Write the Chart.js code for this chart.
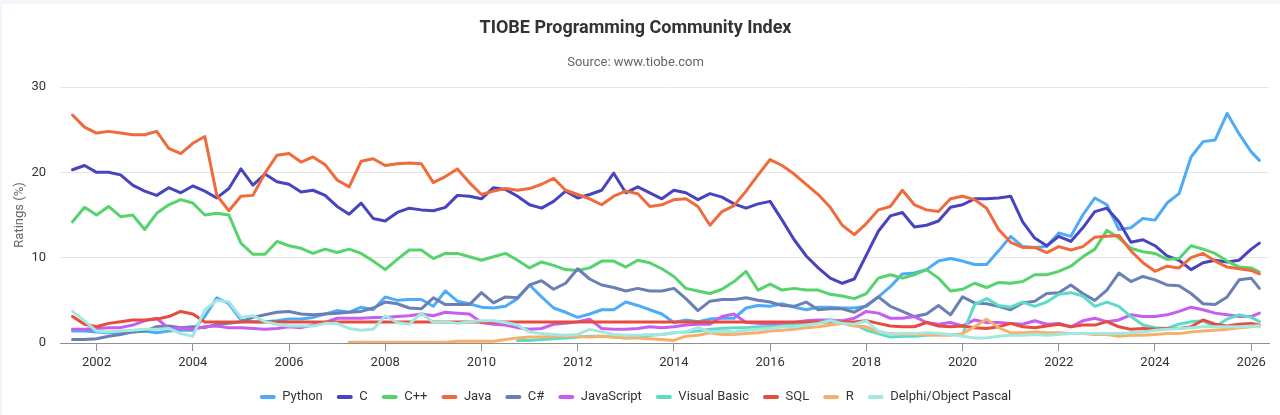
<!DOCTYPE html>
<html>
<head>
<meta charset="utf-8">
<title>TIOBE Programming Community Index</title>
<script src="https://cdn.jsdelivr.net/npm/chart.js@4.4.1/dist/chart.umd.min.js"></script>
<style>
    html, body { margin: 0; padding: 0; background: #f2f5f9; }
    #card { position: absolute; left: 2px; top: 4px; width: 1278px; height: 411px; background: #fff; }
</style>
</head>
<body>
<div id="card"><canvas id="tiobe" width="1278" height="411"></canvas></div>
<script>
// quarterly samples (years as decimals)
const quarters = [
    2001.5, 2001.75,
    2002, 2002.25, 2002.5, 2002.75,
    2003, 2003.25, 2003.5, 2003.75,
    2004, 2004.25, 2004.5, 2004.75,
    2005, 2005.25, 2005.5, 2005.75,
    2006, 2006.25, 2006.5, 2006.75,
    2007, 2007.25, 2007.5, 2007.75,
    2008, 2008.25, 2008.5, 2008.75,
    2009, 2009.25, 2009.5, 2009.75,
    2010, 2010.25, 2010.5, 2010.75,
    2011, 2011.25, 2011.5, 2011.75,
    2012, 2012.25, 2012.5, 2012.75,
    2013, 2013.25, 2013.5, 2013.75,
    2014, 2014.25, 2014.5, 2014.75,
    2015, 2015.25, 2015.5, 2015.75,
    2016, 2016.25, 2016.5, 2016.75,
    2017, 2017.25, 2017.5, 2017.75,
    2018, 2018.25, 2018.5, 2018.75,
    2019, 2019.25, 2019.5, 2019.75,
    2020, 2020.25, 2020.5, 2020.75,
    2021, 2021.25, 2021.5, 2021.75,
    2022, 2022.25, 2022.5, 2022.75,
    2023, 2023.25, 2023.5, 2023.75,
    2024, 2024.25, 2024.5, 2024.75,
    2025, 2025.25, 2025.5, 2025.75,
    2026, 2026.17
];

const xTicks = [2002, 2004, 2006, 2008, 2010, 2012, 2014, 2016, 2018, 2020, 2022, 2024, 2026];
const yTicks = [0, 10, 20, 30];

const languages = ['Python', 'C', 'C++', 'Java', 'C#', 'JavaScript', 'Visual Basic', 'SQL', 'R', 'Delphi/Object Pascal'];

const python = [
    1.4, 1.4,
    1.3, 1.2, 1.2, 1.3,
    1.4, 1.2, 1.4, 1.5,
    1.5, 3.1, 5.3, 4.6,
    2.7, 2.5, 2.5, 2.6,
    2.8, 2.8, 3.0, 3.4,
    3.8, 3.6, 4.2, 3.9,
    5.4, 5.0, 5.1, 5.1,
    4.3, 6.1, 4.9, 4.6,
    4.2, 4.1, 4.3, 5.2,
    6.8, 5.4, 4.1, 3.6,
    3.0, 3.4, 3.9, 3.9,
    4.8, 4.4, 3.9, 3.4,
    2.4, 2.7, 2.5, 2.8,
    2.9, 2.9, 4.1, 4.4,
    4.3, 4.6, 4.2, 3.9,
    4.2, 4.2, 4.1, 4.1,
    4.3, 5.4, 6.6, 8.1,
    8.2, 8.6, 9.6, 9.9,
    9.6, 9.2, 9.2, 10.8,
    12.5, 11.3, 11.2, 11.3,
    12.9, 12.5, 15.0, 17.0,
    16.2, 13.3, 13.5, 14.6,
    14.4, 16.4, 17.5, 21.8,
    23.6, 23.8, 26.9, 24.5,
    22.4, 21.4
];

const c = [
    20.3, 20.8,
    20.0, 20.0, 19.7, 18.5,
    17.8, 17.3, 18.2, 17.6,
    18.4, 17.8, 17.0, 18.1,
    20.4, 18.5, 19.8, 18.9,
    18.6, 17.7, 17.9, 17.3,
    16.0, 15.1, 16.4, 14.6,
    14.3, 15.3, 15.8, 15.6,
    15.5, 15.9, 17.3, 17.2,
    16.9, 18.2, 18.0, 17.2,
    16.2, 15.8, 16.6, 17.8,
    17.0, 17.4, 17.9, 19.9,
    17.6, 18.3, 17.6, 16.9,
    17.9, 17.6, 16.8, 17.5,
    17.1, 16.3, 15.8, 16.3,
    16.6, 14.4, 12.1, 10.2,
    8.8, 7.6, 7.0, 7.5,
    10.3, 13.1, 14.9, 15.3,
    13.6, 13.8, 14.3, 15.9,
    16.2, 16.9, 16.9, 17.0,
    17.2, 14.2, 12.3, 11.4,
    12.5, 11.9, 13.5, 15.4,
    15.8, 14.2, 11.8, 12.1,
    11.4, 10.2, 9.7, 8.6,
    9.4, 9.7, 9.5, 9.7,
    11.0, 11.7
];

const cpp = [
    14.2, 15.9,
    15.0, 16.0, 14.8, 15.0,
    13.3, 15.2, 16.2, 16.8,
    16.4, 15.0, 15.2, 15.0,
    11.7, 10.4, 10.4, 11.9,
    11.4, 11.1, 10.5, 11.0,
    10.6, 11.0, 10.5, 9.6,
    8.6, 9.8, 10.9, 10.9,
    9.9, 10.5, 10.5, 10.1,
    9.7, 10.1, 10.5, 9.7,
    8.8, 9.5, 9.1, 8.6,
    8.5, 8.8, 9.6, 9.6,
    8.9, 9.7, 9.4, 8.7,
    7.8, 6.4, 6.1, 5.8,
    6.3, 7.2, 8.4, 6.2,
    6.9, 6.2, 6.4, 6.2,
    6.2, 5.7, 5.5, 5.2,
    5.8, 7.6, 8.0, 7.6,
    8.0, 8.6, 7.6, 6.1,
    6.3, 7.0, 6.5, 7.1,
    7.0, 7.2, 8.0, 8.0,
    8.4, 9.0, 10.1, 11.0,
    13.2, 12.3, 11.1, 10.7,
    10.5, 9.8, 9.9, 11.4,
    11.0, 10.5, 9.6, 8.9,
    8.8, 8.3
];

const java = [
    26.7, 25.3,
    24.6, 24.8, 24.6, 24.4,
    24.4, 24.8, 22.8, 22.2,
    23.4, 24.2, 17.3, 15.5,
    17.2, 17.3, 19.9, 22.0,
    22.2, 21.2, 21.8, 20.9,
    19.1, 18.3, 21.3, 21.6,
    20.8, 21.0, 21.1, 21.0,
    18.8, 19.5, 20.4, 18.8,
    17.4, 17.8, 18.1, 17.9,
    18.1, 18.6, 19.3, 17.9,
    17.4, 16.9, 16.2, 17.2,
    17.8, 17.5, 16.0, 16.2,
    16.8, 16.9, 16.0, 13.8,
    15.4, 16.1, 17.8, 19.7,
    21.5, 20.8, 19.8, 18.6,
    17.4, 15.9, 13.8, 12.7,
    14.0, 15.6, 16.0, 17.9,
    16.2, 15.6, 15.4, 16.9,
    17.2, 16.8, 15.8, 13.3,
    11.8, 11.2, 11.2, 10.6,
    11.3, 10.9, 11.3, 12.4,
    12.5, 12.6, 10.8, 9.4,
    8.4, 9.0, 8.8, 10.0,
    10.5, 9.6, 8.9, 8.7,
    8.5, 8.1
];

const csharp = [
    0.4, 0.4,
    0.5, 0.8, 1.0, 1.3,
    1.4, 1.9, 2.0, 1.8,
    1.9, 1.8, 2.2, 2.3,
    2.5, 3.0, 3.3, 3.6,
    3.7, 3.4, 3.3, 3.4,
    3.5, 3.6, 3.7, 4.1,
    4.8, 4.6, 4.1, 4.0,
    5.3, 4.5, 4.5, 4.5,
    5.9, 4.7, 5.4, 5.3,
    6.8, 7.3, 6.3, 7.0,
    8.7, 7.5, 6.8, 6.5,
    6.1, 6.4, 6.1, 6.1,
    6.4, 5.2, 3.8, 4.9,
    5.1, 5.1, 5.3, 5.0,
    4.8, 4.4, 4.3, 4.8,
    3.9, 4.0, 4.0, 3.6,
    4.4, 5.4, 4.3, 3.7,
    3.1, 3.4, 4.4, 3.3,
    5.4, 4.7, 4.6, 4.3,
    3.9, 4.7, 4.9, 5.8,
    5.9, 6.8, 5.8, 5.0,
    6.2, 8.2, 7.2, 7.8,
    7.4, 6.8, 6.7, 5.8,
    4.6, 4.5, 5.4, 7.4,
    7.6, 6.4
];

const javascript = [
    1.6, 1.6,
    1.7, 1.8, 1.8, 2.1,
    2.6, 2.9, 1.7, 1.7,
    1.6, 1.9, 2.0, 1.8,
    1.8, 1.7, 1.6, 1.7,
    1.9, 1.8, 2.1, 2.4,
    2.9, 2.9, 2.9, 3.0,
    3.0, 3.1, 3.2, 3.4,
    3.2, 3.6, 3.5, 3.4,
    2.4, 2.2, 2.1, 1.8,
    1.6, 1.7, 2.2, 2.3,
    2.5, 2.8, 1.7, 1.6,
    1.6, 1.7, 1.9, 1.8,
    1.9, 2.1, 2.2, 2.2,
    3.1, 3.4, 2.4, 2.3,
    2.2, 2.2, 2.4, 2.6,
    2.7, 2.7, 2.6, 2.9,
    3.7, 3.5, 2.9, 2.9,
    3.1, 2.4, 2.2, 2.4,
    2.0, 2.7, 2.4, 2.4,
    2.3, 2.2, 2.6, 2.2,
    2.3, 1.9, 2.6, 2.9,
    2.5, 2.7, 3.3, 3.1,
    3.1, 3.3, 3.7, 4.2,
    3.9, 3.5, 3.3, 3.1,
    3.1, 3.5
];

const visualBasic = [
    null, null,
    null, null, null, null,
    null, null, null, null,
    null, null, null, null,
    null, null, null, null,
    null, null, null, null,
    null, null, null, null,
    null, null, null, null,
    null, null, null, null,
    null, null, null, 0.3,
    0.3, 0.4, 0.5, 0.6,
    0.7, 0.8, 0.8, 0.7,
    0.6, 0.7, 0.9, 1.0,
    1.2, 1.3, 1.4, 1.6,
    1.7, 1.8, 1.8, 1.9,
    1.9, 2.0, 2.1, 2.3,
    2.4, 2.7, 2.4, 2.2,
    1.5, 1.1, 0.7, 0.8,
    0.8, 0.9, 1.0, 1.0,
    1.0, 4.5, 5.2, 4.4,
    4.2, 4.8, 4.3, 4.8,
    5.7, 5.9, 5.5, 4.3,
    4.8, 4.3, 3.1, 2.1,
    1.8, 1.7, 2.2, 2.5,
    2.6, 1.9, 2.8, 3.3,
    3.0, 2.5
];

const sql = [
    3.1, 2.2,
    1.9, 2.3, 2.5, 2.7,
    2.7, 2.8, 3.1, 3.7,
    3.4, 2.45, 2.45, 2.45,
    2.45, 2.45, 2.45, 2.45,
    2.45, 2.45, 2.45, 2.45,
    2.45, 2.45, 2.45, 2.45,
    2.45, 2.45, 2.45, 2.45,
    2.45, 2.45, 2.45, 2.45,
    2.45, 2.45, 2.45, 2.45,
    2.45, 2.45, 2.45, 2.45,
    2.45, 2.45, 2.45, 2.45,
    2.45, 2.45, 2.45, 2.45,
    2.45, 2.45, 2.45, 2.45,
    2.45, 2.45, 2.45, 2.45,
    2.45, 2.45, 2.45, 2.45,
    2.45, 2.45, 2.45, 2.45,
    2.6, 2.3, 2.0, 1.9,
    1.9, 2.4, 2.0, 1.9,
    2.0, 1.8, 1.7, 1.9,
    2.3, 1.9, 1.8, 2.0,
    2.2, 1.9, 2.1, 2.1,
    2.5, 1.9, 1.6, 1.7,
    1.6, 1.7, 1.7, 1.9,
    2.7, 2.2, 2.0, 2.2,
    2.3, 2.1
];

const r = [
    null, null,
    null, null, null, null,
    null, null, null, null,
    null, null, null, null,
    null, null, null, null,
    null, null, null, null,
    null, 0.1, 0.1, 0.1,
    0.1, 0.1, 0.1, 0.1,
    0.1, 0.1, 0.2, 0.2,
    0.2, 0.2, 0.4, 0.6,
    0.7, 0.7, 0.8, 0.8,
    0.8, 0.7, 0.8, 0.7,
    0.6, 0.6, 0.5, 0.4,
    0.3, 0.8, 0.9, 1.2,
    1.0, 1.0, 1.1, 1.2,
    1.4, 1.5, 1.6, 1.8,
    1.9, 2.1, 2.3, 2.0,
    1.9, 1.3, 1.1, 1.0,
    1.0, 1.0, 0.9, 0.9,
    1.1, 1.9, 2.8, 1.8,
    1.2, 1.2, 1.3, 1.2,
    1.2, 1.1, 1.1, 1.0,
    1.0, 0.8, 0.9, 0.9,
    1.0, 1.1, 1.1, 1.3,
    1.4, 1.5, 1.6, 1.8,
    1.9, 2.1
];

const delphi = [
    3.7, 2.6,
    1.4, 1.3, 1.4, 1.5,
    1.6, 1.6, 1.7, 1.1,
    0.8, 3.9, 5.0, 4.8,
    3.0, 3.2, 2.5, 2.2,
    2.0, 2.0, 2.0, 2.3,
    2.3, 1.7, 1.5, 1.6,
    3.2, 2.4, 2.2, 3.5,
    2.4, 2.5, 2.3, 2.5,
    2.6, 2.6, 2.4, 2.1,
    1.3, 1.1, 1.0, 0.9,
    1.0, 1.6, 1.3, 1.0,
    0.9, 0.9, 1.0, 1.0,
    1.2, 1.3, 1.8, 1.3,
    1.4, 1.3, 1.5, 1.6,
    1.7, 1.9, 1.9, 2.1,
    2.3, 2.6, 2.3, 2.2,
    2.6, 1.4, 1.0, 1.1,
    1.1, 1.2, 1.1, 1.0,
    0.8, 0.6, 0.6, 0.8,
    0.9, 0.9, 1.0, 0.9,
    1.0, 1.1, 1.1, 1.1,
    1.1, 1.1, 1.2, 1.3,
    1.5, 1.6, 1.7, 1.8,
    1.9, 1.9, 1.9, 1.9,
    2.0, 1.9
];

const ratings = [python, c, cpp, java, csharp, javascript, visualBasic, sql, r, delphi];

const colors = ['#4dabf7', '#4843bf', '#56d36c', '#f06b3c', '#6a7fb3', '#c65ff0', '#5edbc6', '#e84a3d', '#f6b06c', '#a2e8e1'];

Chart.defaults.font.family = 'Roboto, "Liberation Sans", Arial, sans-serif';
Chart.defaults.font.size = 13;
Chart.defaults.color = '#333';

let datasets = languages.map((name, i) => {
    return {
        label: name,
        data: quarters.map((q, k) => ({ x: q, y: ratings[i][k] })),
        borderColor: colors[i],
        backgroundColor: colors[i],
        borderWidth: 3,
        pointRadius: 0,
        tension: 0,
        borderJoinStyle: 'round',
        borderCapStyle: 'round',
        // later series paint on top, like the original
        order: languages.length - i
    };
});

let canvas = document.getElementById('tiobe');
let ctx = canvas.getContext('2d');

let chart = new Chart(ctx, {
    type: 'line',
    data: { datasets: datasets },
    options: {
        responsive: false,
        animation: false,
        layout: { padding: { left: 0, right: 11, top: 0, bottom: 1.5 } },
        plugins: {
            title: {
                display: true,
                text: 'TIOBE Programming Community Index',
                color: '#333',
                font: { size: 18, weight: 'bold' },
                padding: { top: 14, bottom: 0 }
            },
            subtitle: {
                display: true,
                text: 'Source: www.tiobe.com',
                color: '#666',
                font: { size: 13 },
                padding: { top: 15.6, bottom: 16.2 }
            },
            legend: {
                position: 'bottom',
                labels: {
                    boxWidth: 16,
                    boxHeight: 4,
                    useBorderRadius: true,
                    borderRadius: 2,
                    padding: 14,
                    color: '#333',
                    sort: (a, b) => a.datasetIndex - b.datasetIndex,
                    generateLabels: (ch) => {
                        let items = Chart.defaults.plugins.legend.labels.generateLabels(ch);
                        items.forEach(item => { item.lineWidth = 0; });
                        return items;
                    }
                }
            },
            tooltip: { enabled: false }
        },
        scales: {
            x: {
                type: 'linear',
                min: 2001.24,
                max: 2026.37,
                afterBuildTicks: (scale) => {
                    scale.ticks = xTicks.map(v => ({ value: v }));
                },
                afterFit: (scale) => { scale.height = 33.5; },
                ticks: {
                    color: '#333',
                    padding: 4,
                    maxRotation: 0,
                    autoSkip: false,
                    callback: (v) => String(v)
                },
                grid: { drawOnChartArea: false, drawTicks: true, tickLength: 8, color: '#8f8f8f' },
                border: { display: true, color: '#8f8f8f', width: 1 }
            },
            y: {
                min: 0,
                max: 30,
                afterBuildTicks: (scale) => {
                    scale.ticks = yTicks.map(v => ({ value: v }));
                },
                afterFit: (scale) => { scale.width = 58; },
                ticks: { color: '#333', padding: 14 },
                grid: { color: '#e6e6e6', drawTicks: false },
                border: { display: false },
                title: {
                    display: true,
                    text: 'Ratings (%)',
                    color: '#666',
                    font: { size: 13 },
                    padding: { top: 10, bottom: 0 }
                }
            }
        }
    }
});
</script>
</body>
</html>
